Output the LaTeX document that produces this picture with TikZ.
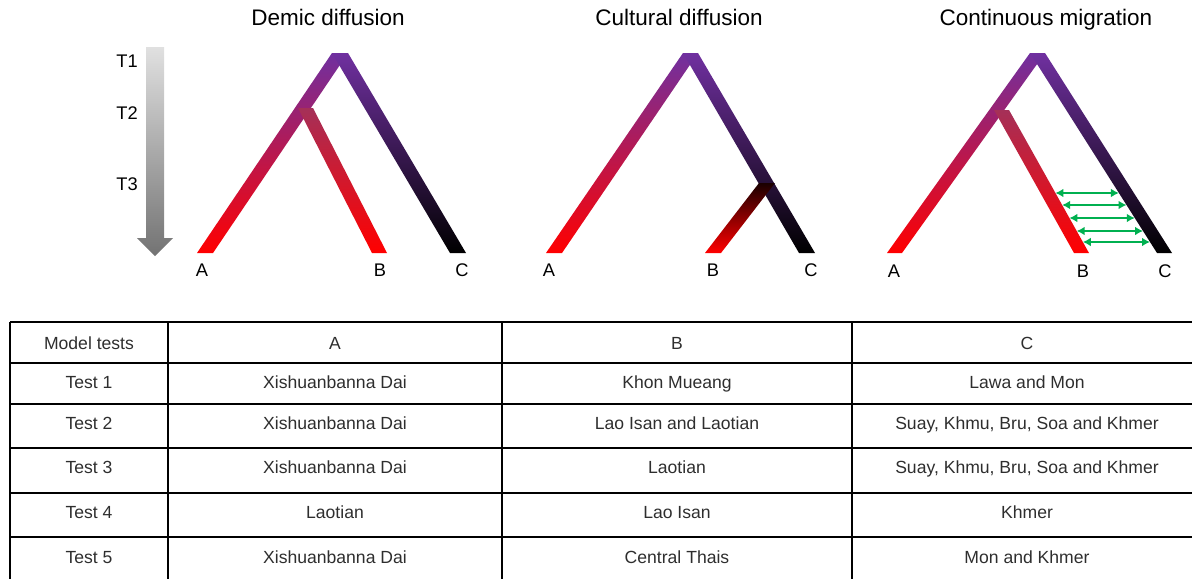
\documentclass[tikz,border=0pt]{standalone}
\usepackage{fontspec}
\setmainfont{Liberation Sans}
\usepackage{tikz}
\usetikzlibrary{arrows.meta,positioning,calc}

\definecolor{apexPurple}{RGB}{112,48,160}
\definecolor{roseRed}{RGB}{165,48,88}
\definecolor{migGreen}{RGB}{0,176,80}

\begin{document}
\begin{tikzpicture}[
        x=0.025cm, y=-0.025cm,
        redLeg/.style={
            top color=apexPurple,
            bottom color=red
        },
        darkLeg/.style={
            top color=apexPurple,
            bottom color=black
        },
        roseLeg/.style={
            top color=roseRed,
            bottom color=red
        },
        shadowLeg/.style={
            top color=black!90!red,
            bottom color=red
        },
        timeArrow/.style={
            top color=black!12,
            bottom color=black!55
        },
        titleLabel/.style={
            font=\fontsize{16}{19}\selectfont,
            text height=1.38ex,
            text depth=0pt
        },
        leafLabel/.style={
            font=\fontsize{13}{15}\selectfont,
            text height=1.38ex,
            text depth=0pt
        },
        cellText/.style={
            font=\fontsize{12.5}{15}\selectfont,
            text=black!82,
            text height=1.38ex,
            text depth=0pt
        },
        gridLine/.style={
            draw=black,
            line width=0.9pt
        },
        migArrow/.style={
            {Latex[length=2mm,width=2.2mm]}-{Latex[length=2mm,width=2.2mm]},
            draw=migGreen,
            line width=1.4pt
        }
    ]

        \useasboundingbox (0,0) rectangle (1192,579);

        % Time axis
        \shade[timeArrow] (146,47) -- (164,47) -- (164,238) -- (173,238)
            -- (155,256) -- (137,238) -- (146,238) -- cycle;
        \node[leafLabel] (t1) at (127,62) {T1};
        \node[leafLabel] (t2) at (127,114) {T2};
        \node[leafLabel] (t3) at (127,185) {T3};

        % Titles
        \node[titleLabel] (demic) at (328,20) {Demic diffusion};
        \node[titleLabel] (cultural) at (679,20) {Cultural diffusion};
        \node[titleLabel] (continuous) at (1046,20) {Continuous migration};

        % Demic diffusion tree
        \shade[redLeg] (332,53) -- (348,53) -- (213,253) -- (197,253) -- cycle;
        \shade[darkLeg] (332,53) -- (348,53) -- (466,253) -- (450,253) -- cycle;
        \shade[roseLeg] (298,108) -- (313,108) -- (387,253) -- (372,253) -- cycle;
        \node[leafLabel] (demicA) at (202,271) {A};
        \node[leafLabel] (demicB) at (380,271) {B};
        \node[leafLabel] (demicC) at (462,271) {C};

        % Cultural diffusion tree
        \shade[redLeg] (683,53) -- (698,53) -- (562,253) -- (546,253) -- cycle;
        \shade[darkLeg] (683,53) -- (698,53) -- (815,253) -- (799,253) -- cycle;
        \shade[shadowLeg] (759,183) -- (775,183) -- (721,253) -- (705,253) -- cycle;
        \node[leafLabel] (culturalA) at (549,271) {A};
        \node[leafLabel] (culturalB) at (713,271) {B};
        \node[leafLabel] (culturalC) at (811,271) {C};

        % Continuous migration tree
        \shade[redLeg] (1030,53) -- (1045,53) -- (902,253) -- (887,253) -- cycle;
        \shade[darkLeg] (1030,53) -- (1045,53) -- (1172,253) -- (1157,253) -- cycle;
        \shade[roseLeg] (994,110) -- (1009,110) -- (1089,253) -- (1074,253) -- cycle;
        \node[leafLabel] (continuousA) at (894,272) {A};
        \node[leafLabel] (continuousB) at (1083,272) {B};
        \node[leafLabel] (continuousC) at (1165,272) {C};

        % Gene flow between B and C
        \coordinate (bTop) at (1009,110);
        \coordinate (bBot) at (1089,253);
        \coordinate (cTop) at (1030,53);
        \coordinate (cBot) at (1157,253);
        \foreach \yy in {193,205,218,231,242} {
            \pgfmathsetmacro{\fb}{(\yy-110)/143}
            \pgfmathsetmacro{\fc}{(\yy-53)/200}
            \draw[migArrow] ($(bTop)!\fb!(bBot)$) -- ($(cTop)!\fc!(cBot)$);
        }

        % Table grid
        \foreach \yy in {322,363,404,448,493,537}
            \draw[gridLine] (10,\yy) -- (1192,\yy);
        \foreach \xx in {10,168,502,852}
            \draw[gridLine] (\xx,322) -- (\xx,579);

        % Table text
        \node[cellText] (head0) at (89,344) {Model tests};
        \node[cellText] (headA) at (335,344) {A};
        \node[cellText] (headB) at (677,344) {B};
        \node[cellText] (headC) at (1027,344) {C};

        \foreach \yy/\tname/\popA/\popB/\popC [count=\i] in {
            383/Test 1/Xishuanbanna Dai/Khon Mueang/Lawa and Mon,
            424/Test 2/Xishuanbanna Dai/Lao Isan and Laotian/{Suay, Khmu, Bru, Soa and Khmer},
            468/Test 3/Xishuanbanna Dai/Laotian/{Suay, Khmu, Bru, Soa and Khmer},
            513/Test 4/Laotian/Lao Isan/Khmer,
            558/Test 5/Xishuanbanna Dai/Central Thais/Mon and Khmer} {
            \node[cellText] (test\i) at (89,\yy) {\tname};
            \node[cellText] (popA\i) at (335,\yy) {\popA};
            \node[cellText] (popB\i) at (677,\yy) {\popB};
            \node[cellText] (popC\i) at (1027,\yy) {\popC};
        }

    \end{tikzpicture}
\end{document}
